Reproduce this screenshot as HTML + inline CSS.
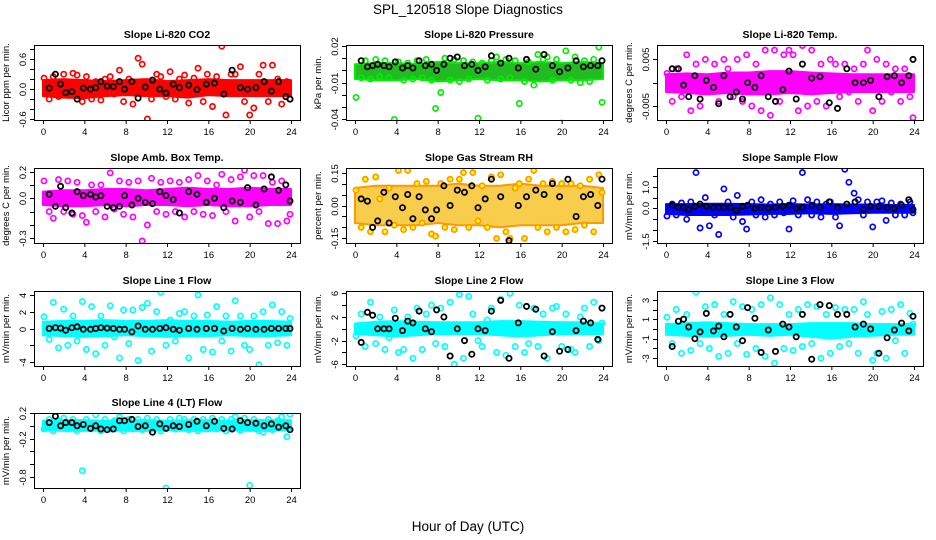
<!DOCTYPE html>
<html><head><meta charset="utf-8">
<style>
html,body{margin:0;padding:0;background:#fff;}
svg{display:block;font-family:"Liberation Sans",Arial,sans-serif;}
</style></head>
<body>
<svg id="chart" width="936" height="540" viewBox="0 0 936 540" xmlns="http://www.w3.org/2000/svg">
<text x="468" y="14" text-anchor="middle" font-size="13.5">SPL_120518  Slope Diagnostics</text>
<text x="468" y="531" text-anchor="middle" font-size="13.5">Hour of Day (UTC)</text>
</svg>
<script>
// shared hours
const colHours = [0.1,0.6,1.0,1.5,2.0,2.4,2.9,3.3,3.8,4.2,4.7,5.1,5.6,6.0,6.5,6.9,7.4,7.8,8.3,8.7,9.2,9.6,10.1,10.5,11.0,11.4,11.9,12.3,12.8,13.2,13.7,14.1,14.6,15.0,15.5,15.9,16.4,16.8,17.3,17.7,18.2,18.6,19.1,19.5,20.0,20.4,20.9,21.3,21.8,22.2,22.7,23.1,23.6,23.9];
const blkHours = [0.6,1.2,1.7,2.2,2.8,3.3,3.9,4.6,5.1,5.6,6.2,6.8,7.4,7.9,8.6,9.2,9.9,10.6,11.3,11.9,12.6,13.2,14.1,14.9,15.8,16.6,17.5,18.3,19.1,19.8,20.6,21.4,22.1,22.8,23.5,23.9];
const bandHours = [0,2,4,6,8,10,12,14,16,18,20,22,24];
const xTicks = [0,4,8,12,16,20,24];

// Panel 1 CO2
const co2Col = [0.22,-0.2,0.25,-0.15,0.3,-0.1,0.32,0.28,-0.25,0.25,-0.2,0.15,-0.22,0.2,0.25,-0.1,0.38,-0.25,0.2,-0.3,0.62,0.5,-0.6,-0.2,0.3,0.25,-0.15,0.35,-0.2,0.2,0.28,-0.28,0.22,0.42,-0.25,0.3,-0.35,0.25,0.86,-0.52,0.3,0.3,0.45,-0.25,-0.52,-0.38,0.3,0.48,-0.25,0.48,0.2,-0.3,0.15,-0.2];
const co2Blk = [0.02,0.3,0.1,-0.07,-0.05,-0.2,0.02,0.0,0.03,0.15,0.06,0.05,0.15,0.0,0.15,-0.18,0.04,0.18,0.0,-0.08,0.1,0.03,0.08,-0.01,0.1,0.12,-0.1,0.38,0.03,0.0,0.03,0.15,-0.04,0.15,-0.15,-0.2];
const co2Lo = [-0.14,-0.17,-0.18,-0.14,-0.12,-0.14,-0.14,-0.17,-0.12,-0.14,-0.14,-0.14,-0.14];
const co2Hi = [0.18,0.2,0.18,0.16,0.18,0.2,0.16,0.18,0.2,0.18,0.18,0.18,0.18];
// Panel 2 Pressure
const presCol = [-0.022,-0.006,0.008,-0.007,0.009,-0.005,0.008,-0.006,-0.04,0.007,-0.008,0.006,-0.007,0.008,-0.006,0.009,-0.008,-0.031,-0.018,0.01,-0.008,0.009,-0.009,0.008,-0.007,0.007,-0.039,0.006,-0.008,0.008,0.011,-0.007,0.009,-0.006,0.008,-0.027,-0.009,0.007,-0.012,0.013,0.009,0.011,-0.008,0.009,-0.043,0.016,-0.008,0.011,-0.01,0.008,-0.009,0.009,0.019,-0.026];
const presBlk = [0.008,0.003,0.004,0.005,0.004,0.003,0.007,0.002,0.004,0.002,0.008,0.004,0.005,0.0,0.005,0.01,0.011,0.004,0.005,0.0,0.003,0.012,0.006,0.01,0.002,0.009,0.001,0.013,0.004,-0.001,0.002,0.008,0.003,0.004,0.004,0.008];
const presLo = [-0.007,-0.008,-0.008,-0.007,-0.009,-0.008,-0.007,-0.008,-0.008,-0.009,-0.008,-0.008,-0.007];
const presHi = [0.005,0.006,0.006,0.005,0.007,0.006,0.006,0.007,0.006,0.007,0.006,0.007,0.006];
// Panel 3 Temp
const tempCol = [0.002,-0.004,0.003,-0.003,0.006,-0.006,0.004,-0.005,0.005,-0.002,0.004,-0.004,0.005,0.003,-0.003,0.005,-0.004,0.006,-0.005,0.004,-0.006,0.007,-0.007,0.007,-0.004,0.006,0.007,0.006,-0.006,0.008,-0.005,0.007,-0.004,0.004,-0.005,0.005,0.004,-0.003,0.004,-0.002,0.003,-0.004,0.004,0.007,-0.006,0.005,-0.004,0.004,-0.002,0.003,-0.004,0.003,-0.003,-0.0075];
const tempBlk = [0.003,0.003,-0.0005,-0.003,0.0015,-0.0035,0.0005,-0.001,-0.0045,0.0015,-0.003,-0.002,-0.0035,0.0,-0.001,0.0015,-0.003,-0.004,-0.0015,0.0025,-0.0035,0.004,0.001,0.0013,-0.0043,-0.0055,0.003,0.0,0.0,0.0005,-0.003,0.0013,0.0015,0.0,0.0015,0.005];
const tempLo = [-0.002,-0.0022,-0.0025,-0.0022,-0.0025,-0.0025,-0.0022,-0.0025,-0.0022,-0.002,-0.002,-0.002,-0.002];
const tempHi = [0.0018,0.002,0.0018,0.0022,0.0022,0.0025,0.0025,0.0022,0.002,0.0018,0.0018,0.0018,0.0018];
// Panel 4 Amb box temp
const ambCol = [0.13,-0.1,-0.15,0.14,-0.1,0.13,-0.12,0.12,-0.13,-0.18,0.1,-0.1,0.1,-0.14,0.19,-0.08,0.13,-0.12,0.12,-0.14,0.13,-0.32,-0.2,0.15,-0.1,0.12,-0.12,0.13,-0.1,0.12,-0.14,0.14,-0.1,0.17,-0.12,0.13,-0.13,0.1,0.18,-0.1,0.14,-0.17,0.16,0.21,-0.14,0.17,-0.1,0.17,-0.19,0.12,-0.19,0.13,-0.17,-0.12];
const ambBlk = [0.03,-0.06,0.09,-0.07,-0.11,0.05,0.02,0.03,0.01,0.02,-0.06,-0.07,-0.06,0.02,-0.05,0.0,-0.03,-0.04,0.05,0.02,-0.01,-0.11,0.05,0.03,-0.03,0.0,-0.07,-0.02,-0.03,0.08,-0.05,0.07,0.16,0.06,0.1,-0.02];
const ambLo = [-0.05,-0.06,-0.06,-0.05,-0.06,-0.05,-0.05,-0.06,-0.05,-0.06,-0.06,-0.05,-0.05];
const ambHi = [0.05,0.06,0.06,0.07,0.07,0.06,0.07,0.08,0.07,0.07,0.08,0.07,0.07];
// Panel 5 RH
const rhCol = [0.07,-0.1,0.12,-0.12,0.13,0.03,-0.12,0.08,-0.09,0.16,-0.11,0.16,-0.1,0.1,-0.08,0.11,-0.13,-0.14,0.1,-0.1,0.12,-0.11,0.12,0.15,-0.1,0.15,-0.07,0.09,-0.1,0.13,-0.15,0.14,-0.12,-0.15,0.08,0.1,-0.15,0.12,0.16,-0.1,0.1,-0.12,0.11,-0.1,0.1,-0.12,0.1,-0.11,0.09,-0.09,0.12,-0.12,0.14,0.06];
const rhBlk = [0.03,0.02,-0.1,-0.07,0.06,-0.08,0.04,-0.01,0.05,-0.06,0.04,-0.02,-0.06,-0.02,0.09,0.0,0.07,0.06,0.09,-0.01,0.03,0.12,0.04,-0.16,0.0,0.04,0.07,0.05,0.1,0.04,0.12,-0.05,0.04,0.05,0.0,0.12];
const rhLo = [-0.08,-0.09,-0.09,-0.09,-0.08,-0.09,-0.09,-0.1,-0.09,-0.09,-0.09,-0.08,-0.08];
const rhHi = [0.08,0.09,0.09,0.09,0.09,0.1,0.09,0.09,0.1,0.09,0.09,0.09,0.08];
// Panel 6 Sample flow
const sfCol = [-0.35,0.2,-0.3,0.25,-0.5,0.3,1.65,-0.9,0.5,-0.8,-0.3,-1.2,0.9,0.3,-0.4,0.6,-0.6,-0.95,0.3,-0.3,0.4,-0.4,0.2,-0.3,0.3,-0.2,-0.95,0.35,-0.3,1.65,0.4,-0.3,0.3,-0.4,0.2,0.3,-0.4,-0.8,1.8,1.2,0.7,0.4,-0.3,0.3,-0.85,0.3,0.35,-0.55,0.25,-0.3,0.2,-0.3,0.3,-0.2];
const sfBlk = [0.15,0.05,0.05,-0.05,0.1,0.2,0.1,0.05,0.05,0.05,0.05,-0.1,0.1,0.15,0.0,0.05,0.0,0.05,0.1,0.15,0.0,0.05,0.15,0.05,0.3,0.05,0.2,0.3,-0.05,0.1,0.1,0.05,0.0,0.15,0.4,-0.05];
const sfLo = [-0.25,-0.3,-0.3,-0.3,-0.28,-0.25,-0.25,-0.22,-0.25,-0.22,-0.2,-0.2,-0.2];
const sfHi = [0.2,0.2,0.22,0.22,0.2,0.18,0.2,0.18,0.2,0.18,0.18,0.16,0.16];
// Panel 7 Line 1
const l1Col = [1.4,-1.3,3.1,-2.3,2.3,-2.0,1.5,-1.5,3.2,-2.5,2.6,-3.0,1.5,-2.0,2.7,-1.0,-3.5,2.2,-1.8,2.2,-3.8,2.5,3.0,-2.7,2.0,4.3,-2.0,1.0,-1.5,1.8,2.0,-3.5,1.5,4.0,-2.5,1.6,-2.8,2.6,-1.5,1.5,-2.7,3.3,1.5,-2.0,-2.5,1.5,-4.3,2.0,-2.0,2.8,-1.7,2.0,-2.0,1.2];
const l1Blk = [0.0,0.1,0.05,-0.2,0.1,0.2,-0.1,-0.1,0.0,0.1,0.05,0.0,-0.1,-0.1,-0.4,0.3,-0.1,-0.1,0.0,0.1,-0.1,-0.2,0.0,-0.1,0.0,0.0,-0.3,0.0,-0.1,0.0,-0.1,-0.1,0.0,0.0,0.0,0.0];
const l1Lo = [-0.8,-0.9,-1.0,-0.9,-0.8,-0.9,-1.0,-0.9,-0.9,-0.8,-0.9,-0.9,-0.8];
const l1Hi = [0.8,0.9,0.9,1.0,0.9,0.9,1.0,0.9,0.9,0.8,0.9,0.9,0.8];
// Panel 8 Line 2
const l2Col = [-1.2,2.5,-3.0,4.5,-2.5,2.0,-3.5,-1.5,3.2,-4.0,-3.5,2.0,-5.0,3.5,-3.5,2.5,4.0,-2.5,3.5,-3.0,4.5,-6.0,5.8,-5.0,5.5,2.5,-2.0,-3.0,1.5,3.5,-4.0,5.0,-4.5,6.0,-3.0,4.0,-4.0,-2.5,3.5,-3.0,2.5,-5.0,3.5,3.8,-3.0,2.5,-3.5,-4.0,2.0,3.5,-3.0,4.5,-2.0,1.0];
const l2Blk = [-2.3,2.8,2.3,0.0,0.0,0.0,1.8,-0.3,1.3,1.0,3.0,0.0,-0.5,3.2,2.0,-4.6,0.0,-2.0,-4.3,0.0,-0.3,3.0,4.8,-5.0,1.0,3.8,3.3,-4.6,-0.5,-3.8,-3.5,-0.3,1.3,1.0,-1.8,3.5];
const l2Lo = [-0.9,-1.1,-1.3,-1.1,-0.9,-0.9,-0.9,-1.1,-1.3,-1.1,-0.9,-0.9,-0.9];
const l2Hi = [0.9,1.2,1.3,1.2,1.1,1.1,1.1,1.3,1.3,1.2,1.1,1.1,0.9];
// Panel 9 Line 3
const l3Col = [1.2,-1.5,2.0,-2.5,1.5,-2.2,3.8,-1.5,2.3,-2.0,2.5,-2.8,1.5,-2.5,2.8,-1.5,2.3,-2.6,2.0,-2.0,2.5,-2.8,3.2,-3.5,2.5,-2.0,1.5,-2.2,2.0,-1.8,2.5,-1.5,2.3,-3.0,1.5,-2.5,2.2,-1.8,2.0,-1.5,2.0,-2.5,2.8,1.5,-3.2,-2.5,1.8,-3.0,2.0,-1.2,2.5,-2.5,1.6,0.5];
const l3Blk = [-1.8,0.8,1.0,0.2,-1.0,-0.3,1.6,-0.2,0.3,-0.8,1.5,0.2,-1.2,2.2,1.1,-2.4,-0.1,-2.3,0.5,0.2,-0.8,1.5,-3.1,2.5,2.4,1.5,1.5,0.2,0.5,0.0,-2.5,-0.9,-0.1,0.6,-0.2,1.3];
const l3Lo = [-0.6,-0.7,-0.8,-0.7,-0.6,-0.7,-0.6,-0.8,-1.0,-0.8,-0.7,-0.6,-0.6];
const l3Hi = [0.5,0.6,0.7,0.6,0.5,0.5,0.5,0.6,0.6,0.6,0.5,0.5,0.5];
// Panel 10 Line 4
const l4Col = [-0.05,0.1,-0.08,0.08,0.12,-0.05,0.1,-0.08,-0.7,0.1,-0.05,0.17,-0.08,0.1,-0.05,0.08,0.14,-0.08,0.1,-0.05,0.1,-0.06,0.12,-0.05,0.1,-0.08,-0.97,0.1,-0.05,0.12,0.1,-0.06,0.1,-0.08,0.1,-0.05,0.12,-0.05,0.1,-0.08,0.1,0.14,-0.07,0.12,-0.93,0.1,-0.08,-0.1,0.1,-0.06,0.08,0.14,-0.17,0.18];
const l4Blk = [0.05,0.15,0.0,0.05,0.05,0.0,0.02,-0.04,0.0,-0.05,-0.06,-0.05,0.08,0.08,0.1,-0.01,0.0,-0.1,0.03,-0.04,0.0,-0.01,0.02,0.07,0.0,0.07,-0.04,-0.05,0.08,0.05,0.04,0.0,0.03,-0.02,0.0,-0.06];
const l4Lo = [-0.07,-0.08,-0.08,-0.07,-0.08,-0.08,-0.07,-0.08,-0.08,-0.07,-0.08,-0.08,-0.07];
const l4Hi = [0.08,0.09,0.09,0.08,0.09,0.09,0.08,0.09,0.09,0.08,0.09,0.09,0.09];

const NS = "http://www.w3.org/2000/svg";
const svg = document.getElementById('chart');
function mk(tag, attrs, parent){
  const e = document.createElementNS(NS, tag);
  for (const k in attrs) e.setAttribute(k, attrs[k]);
  (parent||svg).appendChild(e);
  return e;
}
const colLeft = [34, 346, 657];
const rowTop = [45, 168, 291, 413];
const PW = 266, PH = 75;

const panels = [
 {name:'co2', title:'Slope Li-820 CO2', ylab:'Licor ppm per min.', c:0, r:0, ymin:-0.62, ymax:0.885, ticks:[-0.6,-0.4,-0.2,0,0.2,0.4,0.6,0.8], labels:{'-0.6':'-0.6','0':'0.0','0.6':'0.6'}, col:co2Col, blk:co2Blk, lo:co2Lo, hi:co2Hi, color:'#ff0000', band:'#ff0000', bop:1, fill:'none'},
 {name:'pressure', title:'Slope Li-820 Pressure', ylab:'kPa per min.', c:1, r:0, ymin:-0.0405, ymax:0.0208, ticks:[-0.04,-0.03,-0.02,-0.01,0,0.01,0.02], labels:{'-0.04':'-0.04','-0.01':'-0.01','0.02':'0.02'}, col:presCol, blk:presBlk, lo:presLo, hi:presHi, color:'#00ee00', band:'#22bb22', bop:1, fill:'none'},
 {name:'temp', title:'Slope Li-820 Temp.', ylab:'degrees C per min.', c:2, r:0, ymin:-0.008, ymax:0.0081, ticks:[-0.005,0,0.005], labels:{'-0.005':'-0.005','0.005':'0.005'}, col:tempCol, blk:tempBlk, lo:tempLo, hi:tempHi, color:'#ff00ff', band:'#ff00ff', bop:1, fill:'none'},
 {name:'amb-box-temp', title:'Slope Amb. Box Temp.', ylab:'degrees C per min.', c:0, r:1, ymin:-0.335, ymax:0.227, ticks:[-0.3,-0.2,-0.1,0,0.1,0.2], labels:{'-0.3':'-0.3','0':'0.0','0.2':'0.2'}, col:ambCol, blk:ambBlk, lo:ambLo, hi:ambHi, color:'#ff00ff', band:'#ff00ff', bop:1, fill:'none'},
 {name:'gas-stream-rh', title:'Slope Gas Stream RH', ylab:'percent per min.', c:1, r:1, ymin:-0.171, ymax:0.171, ticks:[-0.15,-0.1,-0.05,0,0.05,0.1,0.15], labels:{'-0.15':'-0.15','0':'0.00','0.15':'0.15'}, col:rhCol, blk:rhBlk, lo:rhLo, hi:rhHi, color:'#ff9900', band:'#f7b800', bop:0.7, fill:'#ffff00'},
 {name:'sample-flow', title:'Slope Sample Flow', ylab:'mV/min per min.', c:2, r:1, ymin:-1.59, ymax:1.86, ticks:[-1.5,-1,-0.5,0,0.5,1,1.5], labels:{'-1.5':'-1.5','0':'0.0','1':'1.0'}, col:sfCol, blk:sfBlk, lo:sfLo, hi:sfHi, color:'#0000ff', band:'#0000ff', bop:1, fill:'none'},
 {name:'line-1-flow', title:'Slope Line 1 Flow', ylab:'mV/min per min.', c:0, r:2, ymin:-4.46, ymax:4.46, ticks:[-4,-2,0,2,4], labels:{'-4':'-4','0':'0','2':'2','4':'4'}, col:l1Col, blk:l1Blk, lo:l1Lo, hi:l1Hi, color:'#00ffff', band:'#00ffff', bop:1, fill:'none'},
 {name:'line-2-flow', title:'Slope Line 2 Flow', ylab:'mV/min per min.', c:1, r:2, ymin:-6.3, ymax:6.4, ticks:[-6,-4,-2,0,2,4,6], labels:{'-6':'-6','-2':'-2','2':'2','6':'6'}, col:l2Col, blk:l2Blk, lo:l2Lo, hi:l2Hi, color:'#00ffff', band:'#00ffff', bop:1, fill:'none'},
 {name:'line-3-flow', title:'Slope Line 3 Flow', ylab:'mV/min per min.', c:2, r:2, ymin:-3.8, ymax:3.9, ticks:[-3,-2,-1,0,1,2,3], labels:{'-3':'-3','-1':'-1','1':'1','3':'3'}, col:l3Col, blk:l3Blk, lo:l3Lo, hi:l3Hi, color:'#00ffff', band:'#00ffff', bop:1, fill:'none'},
 {name:'line-4-flow', title:'Slope Line 4 (LT) Flow', ylab:'mV/min per min.', c:0, r:3, ymin:-0.97, ymax:0.2, ticks:[-0.8,-0.6,-0.4,-0.2,0,0.2], labels:{'-0.8':'-0.8','-0.2':'-0.2','0.2':'0.2'}, col:l4Col, blk:l4Blk, lo:l4Lo, hi:l4Hi, color:'#00ffff', band:'#00ffff', bop:1, fill:'none'}
];

panels.forEach(p => {
  const L = colLeft[p.c], T = rowTop[p.r];
  const g = mk('g', {});
  
  
  const xs = h => L + 9 + h * (248/24);
  const ys = v => T + (p.ymax - v) / (p.ymax - p.ymin) * PH;
  const clipId = 'clip-' + p.name;
  const cp = mk('clipPath', {id: clipId}, g);
  mk('rect', {x:L, y:T, width:PW, height:PH}, cp);

  const t = mk('text', {x: L + PW/2, y: T - 7, 'text-anchor':'middle', 'font-size':'10.5', 'font-weight':'bold'}, g);
  
  
  t.textContent = p.title;

  const yl = mk('text', {x:0, y:0, transform:`translate(${L-25},${T+PH/2}) rotate(-90)`, 'text-anchor':'middle', 'font-size':'9.5'}, g);
  
  
  yl.textContent = p.ylab;

  const data = mk('g', {'clip-path': `url(#${clipId})`}, g);
  let d = '';
  bandHours.forEach((h,i) => { d += (i ? 'L' : 'M') + xs(h).toFixed(1) + ',' + ys(p.hi[i]).toFixed(1); });
  for (let i = bandHours.length - 1; i >= 0; i--) d += 'L' + xs(bandHours[i]).toFixed(1) + ',' + ys(p.lo[i]).toFixed(1);
  d += 'Z';
  const band = mk('path', {d: d, fill: p.band, 'fill-opacity': p.bop, stroke: p.color, 'stroke-width': 2, 'stroke-linejoin':'round'}, data);
  
  

  p.col.forEach((v,i) => {
    const c = mk('circle', {cx: xs(colHours[i]).toFixed(1), cy: ys(v).toFixed(1), r: 2.6, fill: p.fill, stroke: p.color, 'stroke-width': 1.7}, data);
    
    
  });
  p.blk.forEach((v,i) => {
    const c = mk('circle', {cx: xs(blkHours[i]).toFixed(1), cy: ys(v).toFixed(1), r: 2.6, fill: 'none', stroke: '#000', 'stroke-width': 1.8}, data);
    
    
  });

  const box = mk('rect', {x:L+0.5, y:T+0.5, width:PW, height:PH, fill:'none', stroke:'#000', 'stroke-width':1}, g);
  
  

  const xa = mk('g', {}, g);
  
  
  mk('line', {x1: xs(0), x2: xs(24), y1: T+PH+0.5, y2: T+PH+0.5, stroke:'#000'}, xa);
  xTicks.forEach(h => {
    mk('line', {x1: xs(h)+0.5, x2: xs(h)+0.5, y1: T+PH, y2: T+PH+4, stroke:'#000'}, xa);
    const tl = mk('text', {x: xs(h)+0.5, y: T+PH+15, 'text-anchor':'middle', 'font-size':'9.5'}, xa);
    
    
    tl.textContent = String(h);
  });
  const ya = mk('g', {}, g);
  
  
  p.ticks.forEach(v => {
    const y = Math.round(ys(v)) + 0.5;
    mk('line', {x1: L-4, x2: L, y1: y, y2: y, stroke:'#000'}, ya);
    const key = String(v);
    if (p.labels[key] !== undefined) {
      const tl = mk('text', {x:0, y:0, transform:`translate(${L-8},${y}) rotate(-90)`, 'text-anchor':'middle', 'font-size':'9.5'}, ya);
      
      
      tl.textContent = p.labels[key];
    }
  });
});
</script>
</body></html>
